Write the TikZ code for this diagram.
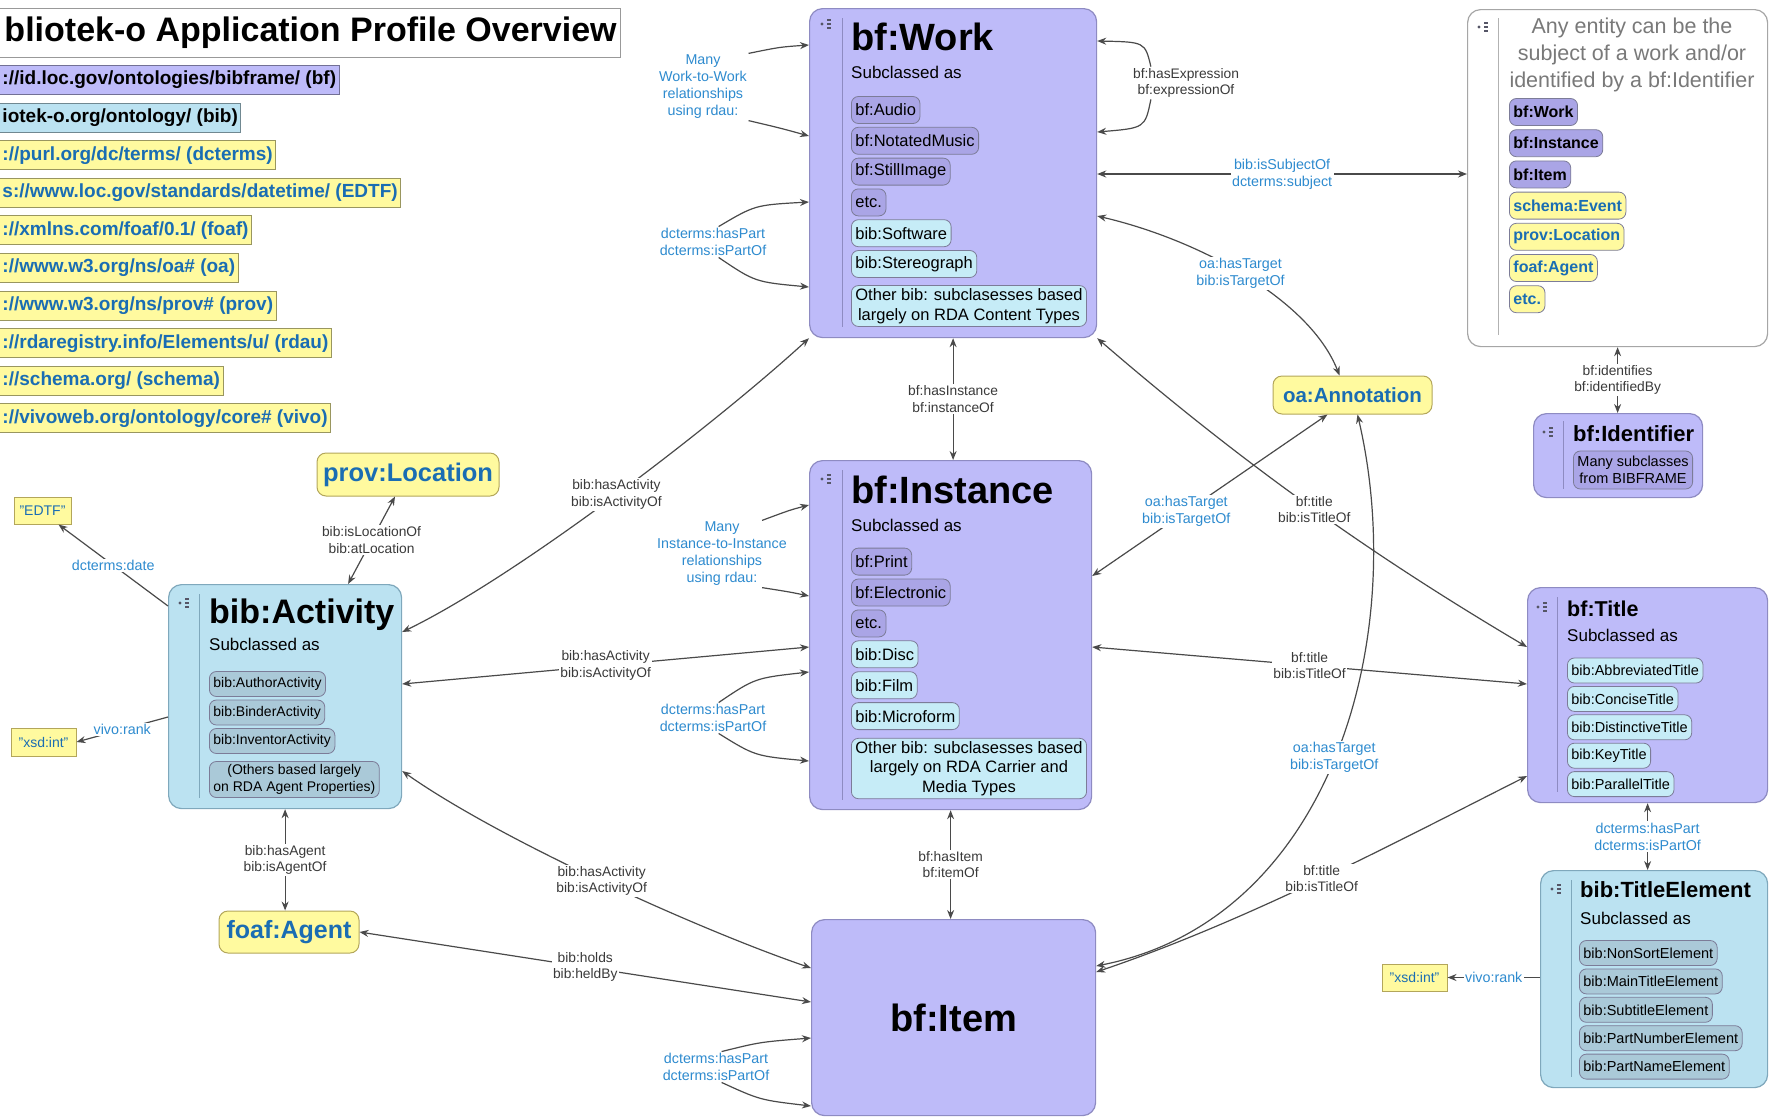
\documentclass[tikz,border=0pt]{standalone}
\usepackage{fontspec}
\setmainfont{Liberation Sans}
\usetikzlibrary{arrows.meta}

\definecolor{lav}{HTML}{BEBBF9}
\definecolor{lavdark}{HTML}{AAA5E6}
\definecolor{lavline}{HTML}{8E8BC2}
\definecolor{skyb}{HTML}{BBE2F1}
\definecolor{skyline}{HTML}{7FA8BC}
\definecolor{cyanpill}{HTML}{C6ECF7}
\definecolor{greypill}{HTML}{AAC9D8}
\definecolor{pillline}{HTML}{7C7C98}
\definecolor{yel}{HTML}{FFFA9F}
\definecolor{yelline}{HTML}{B3A65A}
\definecolor{nsblue}{HTML}{1A6DB3}
\definecolor{lblblue}{HTML}{2E8BCF}
\definecolor{lbltext}{HTML}{3A3A3A}
\definecolor{edgecol}{HTML}{4A4A4A}
\definecolor{iconcol}{HTML}{555566}

% little outliner mark in the class boxes
\newcommand{\boxicon}[2]{%
  \fill[iconcol] (#1-4,#2) circle (1.6);
  \foreach \dd in {-4,0,4}
    \fill[iconcol] (#1+1,#2+\dd-0.7) rectangle +(3.5,1.4);
}

\tikzset{
  clsbox/.style={draw=lavline, line width=1.2pt, rounded corners=13pt, anchor=north west, inner sep=0pt},
  divline/.style={draw=lavline, line width=1pt},
  heading/.style={anchor=base west, inner sep=0pt, font=\bfseries\fontsize{#1}{#1}\selectfont},
  subcl/.style={anchor=base west, inner sep=0pt, font=\fontsize{17}{20}\selectfont},
  pill/.style={draw=pillline, line width=0.8pt, rounded corners=7pt, anchor=west, inner xsep=4pt,
    inner ysep=3pt, align=center, minimum height=27pt, font=\fontsize{16.5}{19.5}\selectfont},
  pillsm/.style={pill, minimum height=25pt, font=\fontsize{14.5}{17}\selectfont},
  pillbd/.style={pill, font=\bfseries\fontsize{16}{19}\selectfont},
  ext/.style={draw=yelline, fill=yel, line width=1pt, rounded corners=9pt, text=nsblue, inner sep=0pt,
    font=\bfseries\fontsize{#1}{#1}\selectfont},
  lit/.style={draw=yelline, fill=yel, line width=1pt, text=nsblue, inner sep=0pt,
    font=\fontsize{14}{16}\selectfont},
  conn/.style={draw=edgecol, line width=1.2pt},
  lbl/.style={fill=white, inner sep=1.5pt, align=center, text=lbltext, font=\fontsize{13.8}{16.5}\selectfont},
  lblb/.style={lbl, text=lblblue, font=\fontsize{14.3}{17}\selectfont},
  nsrow/.style={anchor=west, inner xsep=3pt, inner ysep=0pt, minimum height=29pt, line width=1pt,
    font=\bfseries\fontsize{19}{19}\selectfont},
  pagetitle/.style={anchor=west, draw=gray!80, fill=white, line width=1pt, inner xsep=4pt,
    minimum height=49pt, font=\bfseries\fontsize{34}{34}\selectfont}
}

\begin{document}
\begin{tikzpicture}[x=1pt, y=-1pt, >={Stealth[length=9pt,width=7pt]}]
\useasboundingbox (0,0) rectangle (1779,1117);

% title and namespaces
\node[pagetitle] (ttl) at (-10,32.5) {\hspace*{10pt}bliotek-o Application Profile Overview};
\foreach \txt/\col/\tcol [count=\i] in {
    {://id.loc.gov/ontologies/bibframe/ (bf)}/lav/black,
    {iotek-o.org/ontology/ (bib)}/skyb/black,
    {://purl.org/dc/terms/ (dcterms)}/yel/nsblue,
    {s://www.loc.gov/standards/datetime/ (EDTF)}/yel/nsblue,
    {://xmlns.com/foaf/0.1/ (foaf)}/yel/nsblue,
    {://www.w3.org/ns/oa\# (oa)}/yel/nsblue,
    {://www.w3.org/ns/prov\# (prov)}/yel/nsblue,
    {://rdaregistry.info/Elements/u/ (rdau)}/yel/nsblue,
    {://schema.org/ (schema)}/yel/nsblue,
    {://vivoweb.org/ontology/core\# (vivo)}/yel/nsblue}
  \node[nsrow, fill=\col, draw=\col!60!black, text=\tcol] (ns\i) at (-10,{80+37.6*(\i-1)}) {\hspace*{9pt}\txt};

% bf:Work
\node[clsbox, fill=lav, minimum width=287, minimum height=329] (work) at (809,8) {};
\draw[divline] (842,18) -- (842,327);
\boxicon{826}{24}
\node[heading=38] (workhd) at (851,50) {bf:Work};
\node[subcl] (worksub) at (851,78) {Subclassed as};
\foreach \txt/\col [count=\i] in {bf:Audio/lavdark, bf:NotatedMusic/lavdark, bf:StillImage/lavdark,
    etc./lavdark, bib:Software/cyanpill, bib:Stereograph/cyanpill}
  \node[pill, fill=\col] (workp\i) at (851,{110+30.8*(\i-1)}) {\txt};
\node[pill, fill=cyanpill] (workpo) at (851,306) {Other bib: subclasesses based\\largely on RDA Content Types};

% bf:Instance
\node[clsbox, fill=lav, minimum width=282, minimum height=349] (inst) at (809,460) {};
\draw[divline] (842,470) -- (842,800);
\boxicon{826}{479}
\node[heading=38] (insthd) at (851,503) {bf:Instance};
\node[subcl] (instsub) at (851,531) {Subclassed as};
\foreach \txt/\col [count=\i] in {bf:Print/lavdark, bf:Electronic/lavdark, etc./lavdark,
    bib:Disc/cyanpill, bib:Film/cyanpill, bib:Microform/cyanpill}
  \node[pill, fill=\col] (instp\i) at (851,{561.6+30.9*(\i-1)}) {\txt};
\node[pill, fill=cyanpill] (instpo) at (851,768.5) {Other bib: subclasesses based\\largely on RDA Carrier and\\Media Types};

% bf:Item
\node[clsbox, fill=lav, minimum width=284, minimum height=196, font=\bfseries\fontsize{38}{38}\selectfont] (item) at (811,919) {bf:Item};

% bib:Activity
\node[clsbox, fill=skyb, draw=skyline, minimum width=233, minimum height=224] (act) at (168,584) {};
\draw[divline, draw=skyline] (199,594) -- (199,798);
\boxicon{184}{603}
\node[heading=34] (acthd) at (209,623) {bib:Activity};
\node[subcl] (actsub) at (209,650) {Subclassed as};
\foreach \txt [count=\i] in {bib:AuthorActivity, bib:BinderActivity, bib:InventorActivity}
  \node[pillsm, fill=greypill, font=\fontsize{14}{17}\selectfont] (actp\i) at (209,{684+28.5*(\i-1)}) {\txt};
\node[pillsm, fill=greypill, font=\fontsize{14}{17}\selectfont] (actpo) at (209,779.5) {(Others based largely\\on RDA Agent Properties)};

% subject box
\node[clsbox, draw=gray!70, fill=white, minimum width=300, minimum height=337] (anyent) at (1467,9) {};
\draw[divline, draw=gray!60] (1498,18) -- (1498,335);
\boxicon{1483}{27}
\node[align=center, text=gray!95!black, inner sep=0pt, font=\fontsize{21.5}{27}\selectfont] (anytxt) at (1632,55)
  {Any entity can be the\\subject of a work and/or\\identified by a bf:Identifier};
\foreach \txt/\col/\tcol [count=\i] in {bf:Work/lavdark/black, bf:Instance/lavdark/black, bf:Item/lavdark/black,
    schema:Event/yel/nsblue, prov:Location/yel/nsblue, foaf:Agent/yel/nsblue, etc./yel/nsblue}
  \node[pillbd, fill=\col, text=\tcol] (anyp\i) at (1509,{112+31.2*(\i-1)}) {\txt};

% bf:Identifier
\node[clsbox, fill=lav, minimum width=169, minimum height=84] (ident) at (1533,413) {};
\draw[divline] (1563,421) -- (1563,489);
\boxicon{1548}{432}
\node[heading=22] (identhd) at (1573,441) {bf:Identifier};
\node[pillsm, fill=lavdark, minimum height=38pt] (identp) at (1573,470) {Many subclasses\\from BIBFRAME};

% bf:Title
\node[clsbox, fill=lav, minimum width=240, minimum height=215] (title) at (1527,587) {};
\draw[divline] (1557,597) -- (1557,792);
\boxicon{1542}{607}
\node[heading=21.5] (titlehd) at (1567,616) {bf:Title};
\node[subcl] (titlesub) at (1567,641) {Subclassed as};
\foreach \txt [count=\i] in {bib:AbbreviatedTitle, bib:ConciseTitle, bib:DistinctiveTitle, bib:KeyTitle, bib:ParallelTitle}
  \node[pillsm, fill=cyanpill] (titlep\i) at (1567,{670.5+28.4*(\i-1)}) {\txt};

% bib:TitleElement
\node[clsbox, fill=skyb, draw=skyline, minimum width=227, minimum height=217] (telem) at (1540,870) {};
\draw[divline, draw=skyline] (1571,880) -- (1571,1077);
\boxicon{1556}{889}
\node[heading=22] (telemhd) at (1580,897) {bib:TitleElement};
\node[subcl] (telemsub) at (1580,924) {Subclassed as};
\foreach \txt [count=\i] in {bib:NonSortElement, bib:MainTitleElement, bib:SubtitleElement,
    bib:PartNumberElement, bib:PartNameElement}
  \node[pillsm, fill=greypill] (telemp\i) at (1579,{953+28.4*(\i-1)}) {\txt};

% outside classes and literals
\node[ext=25.5, minimum width=182, minimum height=43] (provloc) at (408,474.5) {prov:Location};
\node[ext=25, minimum width=140, minimum height=42] (foaf) at (289,932) {foaf:Agent};
\node[ext=20.5, minimum width=159, minimum height=38] (annot) at (1352.5,395) {oa:Annotation};
\node[lit, minimum width=57, minimum height=27] (edtf) at (42.5,510.5) {"EDTF"};
\node[lit, minimum width=65, minimum height=28] (xsdl) at (43.5,742) {"xsd:int"};
\node[lit, minimum width=65, minimum height=27] (xsdr) at (1414.5,977.5) {"xsd:int"};

% self relations
\node[lblb] (wrdau) at (703,87) {Many\\Work-to-Work\\relationships\\using rdau:};
\draw[conn,->] (wrdau.north east) .. controls (780,47) .. (work.west |- 0,45);
\draw[conn,->] (wrdau.south east) .. controls (780,128) .. (work.west |- 0,136);
\node[lblb] (wpart) at (713,242) {dcterms:hasPart\\dcterms:isPartOf};
\draw[conn,->] (wpart.70) .. controls (755,205) .. (work.west |- 0,202);
\draw[conn,->] (wpart.-70) .. controls (755,282) .. (work.west |- 0,287);
\node[lbl] (wexpr) at (1186,83) {bf:hasExpression\\bf:expressionOf};
\draw[conn,->] (wexpr.155) .. controls (1145,42) .. (work.east |- 0,41);
\draw[conn,->] (wexpr.205) .. controls (1145,128) .. (work.east |- 0,132);
\node[lblb] (irdau) at (722,554) {Many\\Instance-to-Instance\\relationships\\using rdau:};
\draw[conn,->] (irdau.40) .. controls (790,510) .. (inst.west |- 0,505);
\draw[conn,->] (irdau.-40) .. controls (790,592) .. (inst.west |- 0,596);
\node[lblb] (ipart) at (713,718) {dcterms:hasPart\\dcterms:isPartOf};
\draw[conn,->] (ipart.70) .. controls (755,678) .. (inst.west |- 0,672);
\draw[conn,->] (ipart.-70) .. controls (755,756) .. (inst.west |- 0,761);
\node[lblb] (itpart) at (716,1067) {dcterms:hasPart\\dcterms:isPartOf};
\draw[conn,->] (itpart.70) .. controls (760,1042) .. (item.west |- 0,1038);
\draw[conn,->] (itpart.-70) .. controls (760,1100) .. (item.west |- 0,1106);

% bf relations
\draw[conn,<->] (work.east |- 0,174) -- node[lblb] {bib:isSubjectOf\\dcterms:subject} (anyent.west |- 0,174);
\draw[conn,<->] (work.east |- 0,216) .. controls (1200,240) and (1310,300) .. ([xshift=-13pt]annot.north)
  node[lblb, pos=0.48] {oa:hasTarget\\bib:isTargetOf};
\draw[conn,<->] (work.south) -- node[lbl] {bf:hasInstance\\bf:instanceOf} (work.south |- inst.north);
\draw[conn,<->] (work.south east) .. controls (1250,470) and (1380,560) .. (title.west |- 0,647)
  node[lbl, pos=0.5] {bf:title\\bib:isTitleOf};
\draw[conn,<->] (inst.east |- 0,576) -- node[lblb, pos=0.4] {oa:hasTarget\\bib:isTargetOf} ([xshift=-25pt]annot.south);
\draw[conn,<->] (inst.east |- 0,647) -- node[lbl] {bf:title\\bib:isTitleOf} (title.west |- 0,684);
\draw[conn,<->] (inst.south) -- node[lbl] {bf:hasItem\\bf:itemOf} (inst.south |- item.north);
\draw[conn,<->] (item.east |- 0,972) .. controls (1250,920) and (1400,840) .. (title.west |- 0,776)
  node[lbl, pos=0.5] {bf:title\\bib:isTitleOf};
\draw[conn,<->] (item.east |- 0,966) .. controls (1330,920) and (1410,640) .. ([xshift=5pt]annot.south)
  node[lblb, pos=0.5] {oa:hasTarget\\bib:isTargetOf};
\draw[conn,<->] (title.south) -- node[lblb] {dcterms:hasPart\\dcterms:isPartOf} (title.south |- telem.north);
\draw[conn,->] (telem.west |- xsdr.east) -- node[lblb] {vivo:rank} (xsdr.east);
\draw[conn,<->] (anyent.south) -- node[lbl] {bf:identifies\\bf:identifiedBy} (anyent.south |- ident.north);

% activity relations
\draw[conn,<->] (act.east |- 0,632) .. controls (520,575) and (720,420) .. (work.south west)
  node[lbl, pos=0.5] {bib:hasActivity\\bib:isActivityOf};
\draw[conn,<->] (act.east |- 0,684) -- node[lbl] {bib:hasActivity\\bib:isActivityOf} (inst.west |- 0,647);
\draw[conn,<->] (act.east |- 0,771) .. controls (500,840) and (700,930) .. (item.west |- 0,968)
  node[lbl, pos=0.5] {bib:hasActivity\\bib:isActivityOf};
\draw[conn,<->] ([xshift=63pt]act.north) -- node[lbl] {bib:isLocationOf\\bib:atLocation} ([xshift=-13pt]provloc.south);
\draw[conn,->] ([yshift=-22pt]act.north west) -- node[lblb] {dcterms:date} ([xshift=16pt]edtf.south);
\draw[conn,->] (act.west |- 0,717) -- node[lblb] {vivo:rank} (xsdl.east);
\draw[conn,<->] (act.south) -- node[lbl] {bib:hasAgent\\bib:isAgentOf} (act.south |- foaf.north);
\draw[conn,<->] (foaf.east) -- node[lbl] {bib:holds\\bib:heldBy} (item.west |- 0,1002);
\end{tikzpicture}
\end{document}
